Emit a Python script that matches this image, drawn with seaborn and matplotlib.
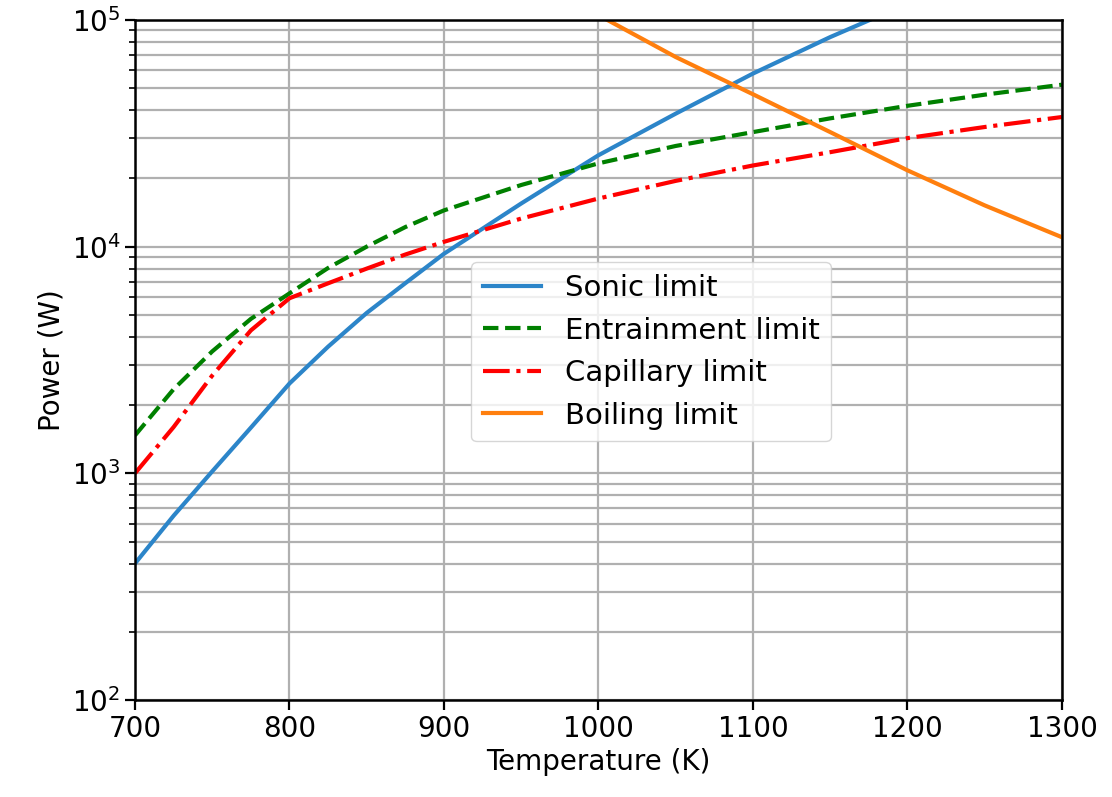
import matplotlib
matplotlib.use("Agg")
import matplotlib.pyplot as plt
import seaborn as sns

# temperatures (K) and power limits (W)
temp_sonic = [700, 725, 750, 775, 800, 825, 850, 875, 900, 950, 1000, 1050, 1100, 1150, 1200, 1250, 1300]
sonic = [400, 650, 1020, 1590, 2490, 3620, 5100, 6900, 9300, 15500, 25300, 38600, 58000, 84000,
         118000, 160000, 213000]

temp_ent = [700, 725, 750, 775, 800, 825, 850, 875, 900, 950, 1000, 1050, 1100, 1150, 1200, 1250, 1300]
entrainment = [1470, 2350, 3450, 4800, 6220, 8050, 10000, 12200, 14450, 18700, 23300, 27800, 32000,
               36800, 41800, 46800, 51800]

temp_cap = [700, 725, 750, 775, 800, 825, 850, 875, 900, 950, 1000, 1050, 1100, 1150, 1200, 1250, 1300]
capillary = [1000, 1600, 2700, 4270, 5920, 6890, 8000, 9230, 10500, 13300, 16300, 19500, 22800, 26100,
             30100, 33700, 37300]

temp_boil = [1000, 1050, 1100, 1150, 1200, 1250, 1300]
boiling = [105000, 68600, 47000, 32000, 21700, 15200, 11000]

plt.rcParams["font.family"] = ["DejaVu Sans"]

fig = plt.figure(figsize=(11.12, 7.97), dpi=100)
ax = fig.add_axes([0.1214, 0.1217, 0.8336, 0.8533])

lw = 3
sns.lineplot(x=temp_sonic, y=sonic, ax=ax, color="#2c85c9", lw=lw, label="Sonic limit")
sns.lineplot(x=temp_ent, y=entrainment, ax=ax, color="green", lw=lw, linestyle="--",
             label="Entrainment limit")
sns.lineplot(x=temp_cap, y=capillary, ax=ax, color="red", lw=lw, linestyle="-.",
             label="Capillary limit")
sns.lineplot(x=temp_boil, y=boiling, ax=ax, color="#ff7f0e", lw=lw, label="Boiling limit")

ax.set_yscale("log")
ax.set_xlim(700, 1300)
ax.set_ylim(1e2, 1e5)

ax.grid(True, which="major", axis="x", color="#b0b0b0", lw=1.6)
ax.grid(True, which="both", axis="y", color="#b0b0b0", lw=1.6)

ax.set_xlabel("Temperature (K)", fontsize=20)
ax.set_ylabel("Power (W)", fontsize=20)
ax.tick_params(axis="both", which="major", labelsize=20, length=7, width=1.6)
ax.tick_params(axis="y", which="minor", length=4, width=1.2)
for sp in ax.spines.values():
    sp.set_linewidth(1.8)

ax.legend(loc="center", bbox_to_anchor=(0.557, 0.512), fontsize=21)

fig.savefig("out.png", dpi=100)
